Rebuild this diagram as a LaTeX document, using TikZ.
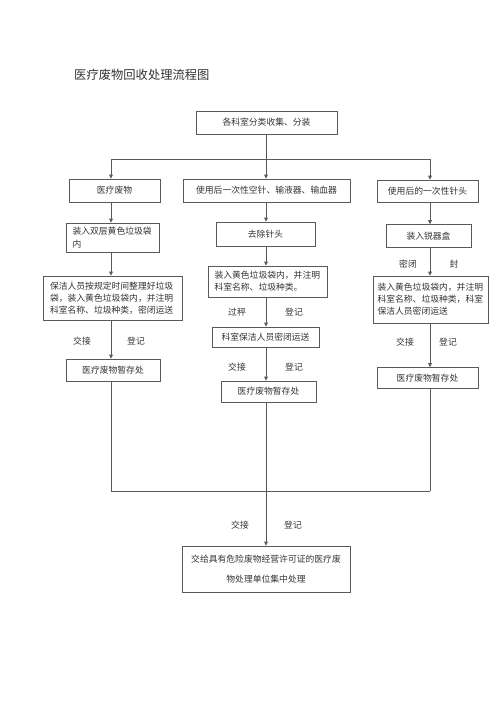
\documentclass[tikz,border=0pt]{standalone}
\usepackage{fontspec}
\setmainfont{Noto Sans CJK SC}
\usetikzlibrary{arrows.meta}
\definecolor{linec}{gray}{0.35}
\definecolor{txtc}{gray}{0.2}
\begin{document}
\begin{tikzpicture}[x=1pt,y=-1pt,
  box/.style={draw=linec, line width=0.7pt, text=txtc, inner sep=0pt,
    font=\fontsize{8.8}{12}\selectfont, align=center},
  lbox/.style={box, align=left},
  lab/.style={text=txtc, font=\fontsize{8.8}{12}\selectfont, inner sep=0pt},
  conn/.style={draw=linec, line width=0.8pt},
  arr/.style={conn, -{Triangle[length=4pt,width=3.6pt]}}]
\useasboundingbox[fill=white] (0,0) rectangle (500,707);

\node[anchor=west, text=txtc, font=\fontsize{12.3}{14}\selectfont, inner sep=0pt] (title) at (74,75) {医疗废物回收处理流程图};

\node[box, minimum width=141pt, minimum height=23pt] (top) at (266.5,122.5) {各科室分类收集、分装};

% row 1
\node[box, minimum width=91pt, minimum height=23pt] (L1) at (114.5,190.5) {医疗废物};
\node[box, minimum width=167pt, minimum height=23pt] (M1) at (266.5,190.5) {使用后一次性空针、输液器、输血器};
\node[box, minimum width=101pt, minimum height=22pt] (R1) at (427.5,191) {使用后的一次性针头};

% left column
\node[lbox, text width=80pt, inner xsep=6.5pt, minimum height=29pt, font=\fontsize{8.8}{13}\selectfont] (L2) at (112.5,237.5) {装入双层黄色垃圾袋\\内};
\node[lbox, text width=125pt, inner xsep=7pt, minimum height=44pt] (L3) at (112.5,298) {保洁人员按规定时间整理好垃圾\\袋，装入黄色垃圾袋内，并注明\\科室名称、垃圾种类，密闭运送};
\node[lab] (Lj) at (82,341) {交接};
\node[lab] (Ld) at (136,341) {登记};
\node[box, minimum width=94pt, minimum height=22pt] (L4) at (113,370) {医疗废物暂存处};

% middle column
\node[box, minimum width=99pt, minimum height=24pt] (M2) at (265.5,234) {去除针头};
\node[lbox, text width=106pt, inner xsep=6.5pt, minimum height=31pt] (M3) at (267.5,281.5) {装入黄色垃圾袋内，并注明\\科室名称、垃圾种类。};
\node[lab] (Mg) at (237,312) {过秤};
\node[lab] (Md1) at (294,312) {登记};
\node[box, minimum width=107pt, minimum height=20pt] (M4) at (265.5,337) {科室保洁人员密闭运送};
\node[lab] (Mj) at (237,367) {交接};
\node[lab] (Md2) at (294,367) {登记};
\node[box, minimum width=95pt, minimum height=21pt] (M5) at (268.5,391.5) {医疗废物暂存处};

% right column
\node[box, minimum width=85pt, minimum height=23pt] (R2) at (428.5,236) {装入锐器盒};
\node[lab] (Rm) at (408,264) {密闭};
\node[lab] (Rf) at (454,264) {封};
\node[lbox, text width=106pt, inner xsep=4.5pt, minimum height=47pt] (R3) at (430.5,299.5) {装入黄色垃圾袋内，并注明\\科室名称、垃圾种类，科室\\保洁人员密闭运送};
\node[lab] (Rj) at (405,342) {交接};
\node[lab] (Rd) at (448,342) {登记};
\node[box, minimum width=101pt, minimum height=21pt] (R4) at (427.5,378) {医疗废物暂存处};

% final
\node[lab] (Fj) at (240,525) {交接};
\node[lab] (Fd) at (293,525) {登记};
\node[box, minimum width=168pt, minimum height=46pt, font=\fontsize{8.8}{20}\selectfont] (F) at (266,569) {交给具有危险废物经营许可证的医疗废\\物处理单位集中处理};

% junction coordinates
\coordinate (cL) at (111,159);
\coordinate (cM) at (266,159);
\coordinate (cR) at (430,159);
\coordinate (bL) at (111,491);
\coordinate (bR) at (430,491);

% top distribution
\draw[arr] (top.south -| cM) -- (M1.north -| cM);
\draw[conn] (cL) -- (cR);
\draw[arr] (cL) -- (L1.north -| cL);
\draw[arr] (cR) -- (R1.north -| cR);

% left
\draw[arr] (L1.south -| cL) -- (L2.north -| cL);
\draw[arr] (L2.south -| cL) -- (L3.north -| cL);
\draw[arr] (L3.south -| cL) -- (L4.north -| cL);
\draw[conn] (L4.south -| cL) -- (bL);

% middle
\draw[arr] (M1.south -| cM) -- (M2.north -| cM);
\draw[arr] (M2.south -| cM) -- (M3.north -| cM);
\draw[arr] (M3.south -| cM) -- (M4.north -| cM);
\draw[arr] (M4.south -| cM) -- (M5.north -| cM);
\draw[arr] (M5.south -| cM) -- (F.north -| cM);

% right
\draw[arr] (R1.south -| cR) -- (R2.north -| cR);
\draw[arr] (R2.south -| cR) -- (R3.north -| cR);
\draw[arr] (R3.south -| cR) -- (R4.north -| cR);
\draw[conn] (R4.south -| cR) -- (bR);

% bottom collector
\draw[conn] (bL) -- (bR);
\end{tikzpicture}
\end{document}
